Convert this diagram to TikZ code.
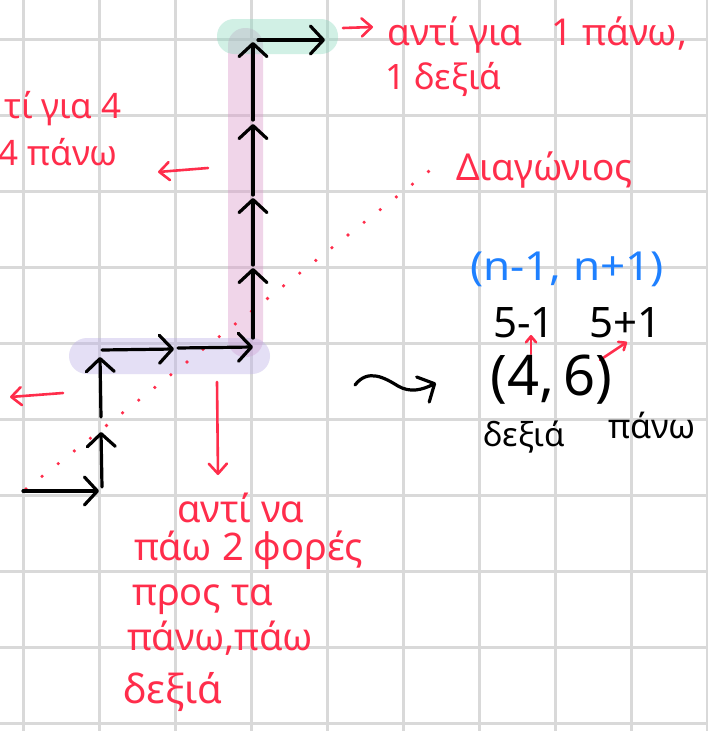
\documentclass[tikz,border=0pt]{standalone}
\usepackage{fontspec}
\setmainfont{Noto Sans}
\usetikzlibrary{arrows.meta}
\definecolor{hred}{RGB}{255,45,75}
\definecolor{hblue}{RGB}{30,128,255}
\definecolor{gridc}{RGB}{217,217,217}
\definecolor{mint}{RGB}{140,218,192}
\definecolor{lav}{RGB}{188,176,230}
\definecolor{pinkh}{RGB}{218,150,200}
\begin{document}
\begin{tikzpicture}[x=1pt,y=-1pt,
  gridline/.style={gridc,line width=3pt},
  walk/.style={black,line width=3.2pt,line cap=round,line join=round,
    -{Straight Barb[length=13pt,width=28pt,round]}},
  redarrow/.style={hred,line width=2.6pt,line cap=round,
    -{Straight Barb[length=10pt,width=18pt,round]}},
  hl/.style={fill opacity=0.4},
  rtext/.style={text=hred,inner sep=0pt,font=\fontsize{37}{40}\selectfont},
  btext/.style={text=black,inner sep=0pt,font=\fontsize{34}{40}\selectfont},
  bluetext/.style={text=hblue,inner sep=0pt,font=\fontsize{40}{40}\selectfont}]
\useasboundingbox (0,0) rectangle (708,731);
\clip (0,0) rectangle (708,731);
\fill[white] (0,0) rectangle (708,731);
% grid
\foreach \k in {0,...,9} {
  \draw[gridline] (23+76*\k,0) -- (23+76*\k,731);
  \draw[gridline] (0,39+76*\k) -- (708,39+76*\k);
}
% highlights
\fill[pinkh,hl,rounded corners=17pt] (228,28) rectangle (263,357);
\fill[lav,hl,rounded corners=18pt] (69,338) rectangle (270,374);
\fill[mint,hl,rounded corners=17pt] (217,19) rectangle (338,54);
% diagonal dots
\foreach \i in {0,...,25} {
  \fill[hred] (26+16.1*\i,489-12.7*\i) circle (1.8);
}
% walk coordinates
\coordinate (a0) at (23,491);
\coordinate (a1) at (99,491);
\coordinate (b0) at (102,487);
\coordinate (b1) at (101,432);
\coordinate (c0) at (101,417);
\coordinate (c1) at (100,357);
\coordinate (d0) at (102,350);
\coordinate (d1) at (174,349);
\coordinate (e0) at (178,348);
\coordinate (e1) at (253,347);
\coordinate (f0) at (253,338);
\coordinate (f1) at (253,268);
\coordinate (g0) at (253,265);
\coordinate (g1) at (253,198);
\coordinate (h0) at (253,195);
\coordinate (h1) at (253,124);
\coordinate (i0) at (253,120);
\coordinate (i1) at (253,42);
\coordinate (j0) at (258,40);
\coordinate (j1) at (325,40);
\draw[walk] (a0) -- (a1);
\draw[walk] (b0) -- (b1);
\draw[walk] (c0) -- (c1);
\draw[walk] (d0) -- (d1);
\draw[walk] (e0) -- (e1);
\draw[walk] (f0) -- (f1);
\draw[walk] (g0) -- (g1);
\draw[walk] (h0) -- (h1);
\draw[walk] (i0) -- (i1);
\draw[walk] (j0) -- (j1);
% red arrows
\coordinate (r1s) at (343,28); \coordinate (r1e) at (373,27);
\coordinate (r2s) at (208,168); \coordinate (r2e) at (158,172);
\coordinate (r3s) at (63,393); \coordinate (r3e) at (10,397);
\coordinate (r4s) at (217,382); \coordinate (r4e) at (218,475);
\coordinate (r5s) at (531,354); \coordinate (r5e) at (531,335);
\coordinate (r6s) at (600,360); \coordinate (r6e) at (627,342);
\draw[redarrow] (r1s) -- (r1e);
\draw[redarrow] (r2s) -- (r2e);
\draw[redarrow] (r3s) -- (r3e);
\draw[redarrow] (r4s) -- (r4e);
\draw[redarrow,-{Straight Barb[length=6pt,width=10pt,round]}] (r5s) -- (r5e);
\draw[redarrow,-{Straight Barb[length=6pt,width=10pt,round]}] (r6s) -- (r6e);
% squiggle
\coordinate (s0) at (355,385);
\coordinate (s1) at (436,383);
\draw[walk] (s0) .. controls (368,368) and (385,378) .. (398,386) .. controls (410,393) and (422,390) .. (s1);
% red texts
\node[rtext,anchor=base west] (t1) at (387,45) {αντί για\ \ \ 1 πάνω,};
\node[rtext,anchor=base west,font=\fontsize{35}{40}\selectfont] (t2) at (385,89) {1 δεξιά};
\node[rtext,anchor=base east,font=\fontsize{35}{40}\selectfont] (t3) at (122,118) {τί για 4};
\node[rtext,anchor=base east,font=\fontsize{35}{40}\selectfont] (t4) at (118,165) {4 πάνω};
\node[rtext,anchor=base west] (t5) at (456,180) {Διαγώνιος};
\node[rtext,anchor=base west,font=\fontsize{38}{40}\selectfont] (t6) at (177,522) {αντί να};
\node[rtext,anchor=base west,font=\fontsize{38}{40}\selectfont] (t7) at (134,560) {πάω 2 φορές};
\node[rtext,anchor=base west,font=\fontsize{38}{40}\selectfont] (t8) at (132,605) {προς τα};
\node[rtext,anchor=base west,font=\fontsize{38}{40}\selectfont] (t9) at (127,650) {πάνω,πάω};
\node[rtext,anchor=base west,font=\fontsize{40}{40}\selectfont] (t10) at (123,703) {δεξιά};
% blue
\node[bluetext,anchor=base west,xscale=1.1] (u1) at (470,280) {(n-1, n+1)};
% black
\node[btext,anchor=base west,font=\fontsize{42}{42}\selectfont] (v1) at (493,337) {5-1};
\node[btext,anchor=base west,font=\fontsize{42}{42}\selectfont] (v2) at (589,337) {5+1};
\node[btext,anchor=base west,font=\fontsize{56}{56}\selectfont] (v3) at (490,395) {(4,\,6)};
\node[btext,anchor=base west,font=\fontsize{33}{33}\selectfont] (v4) at (483,446) {δεξιά};
\node[btext,anchor=base west,font=\fontsize{34}{34}\selectfont] (v5) at (608,438) {πάνω};
\end{tikzpicture}
\end{document}
